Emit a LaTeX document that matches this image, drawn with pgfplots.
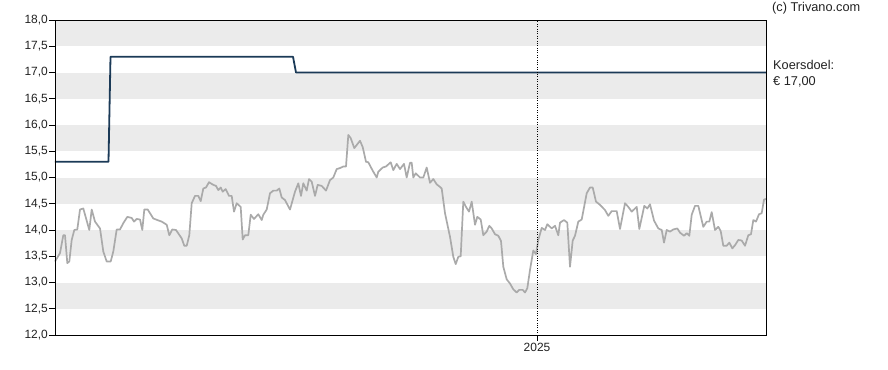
\documentclass[border=0pt]{standalone}
\usepackage{pgfplots}
\pgfplotsset{compat=1.18}
\usepackage{fontspec}
\setmainfont{Liberation Sans}
\definecolor{band}{HTML}{EBEBEB}
\definecolor{target}{HTML}{1B3A57}
\definecolor{price}{HTML}{AAAAAA}
\definecolor{txt}{HTML}{222222}
\begin{document}
\begin{tikzpicture}[x=1bp,y=1bp]
\begin{axis}[
  at={(55bp,-335bp)}, anchor=south west,
  scale only axis, width=711bp, height=315bp,
  xmin=55, xmax=766, ymin=12, ymax=18,
  ytick={12,12.5,...,18},
  xtick={537}, xticklabels={2025},
  xtick pos=bottom, ytick pos=left,
  xmajorgrids, major x grid style={black, dotted, line width=0.8pt},
  tick align=outside, major tick length=6bp,
  tick style={black, line width=0.8pt},
  axis line style={black, line width=0.8pt},
  axis on top,
  /pgf/number format/.cd, fixed, fixed zerofill, precision=1, use comma, assume math mode=true,
  /pgfplots/.cd,
  ticklabel style={font=\fontsize{12}{14}\selectfont, text=txt},
  yticklabel style={inner sep=1bp},
  xticklabel style={inner sep=2bp},
  clip=false,
]
\fill[band] (axis cs:55,17.5) rectangle (axis cs:766,18);
\fill[band] (axis cs:55,16.5) rectangle (axis cs:766,17);
\fill[band] (axis cs:55,15.5) rectangle (axis cs:766,16);
\fill[band] (axis cs:55,14.5) rectangle (axis cs:766,15);
\fill[band] (axis cs:55,13.5) rectangle (axis cs:766,14);
\fill[band] (axis cs:55,12.5) rectangle (axis cs:766,13);
\addplot[price, line width=1.7bp, line join=round] coordinates {
(55,13.40)(60,13.56)(63.3,13.90)(65,13.90)(67.3,13.37)(69.3,13.40)(71.7,13.81)(74.3,14.00)(77.3,14.01)(80,14.39)(83.3,14.41)(89.3,14.00)(91.7,14.39)(95,14.16)(100,14.03)(103.3,13.59)(106.7,13.40)(110.7,13.40)(113.3,13.59)(116.7,14.01)(120,14.01)(123.3,14.13)(127.3,14.25)(131.7,14.23)(134,14.16)(136.7,14.21)(140,14.20)(142.3,14.00)(144.3,14.39)(147.7,14.39)(153.3,14.22)(157.3,14.19)(161.7,14.16)(166.7,14.10)(169.3,13.90)(172.3,14.01)(176,14.00)(181.7,13.84)(184.3,13.70)(186.7,13.70)(189.3,13.90)(191.7,14.51)(195,14.65)(198.3,14.65)(200.7,14.55)(203.3,14.79)(206,14.81)(209,14.91)(213.3,14.86)(216,14.84)(218.3,14.76)(220.7,14.81)(222.7,14.73)(225.7,14.78)(229,14.65)(231.7,14.65)(234,14.35)(236.7,14.51)(240.7,14.44)(242.7,13.82)(245,13.90)(248.3,13.90)(250.7,14.29)(254,14.21)(258.3,14.30)(261.7,14.19)(263.3,14.29)(266.7,14.39)(270,14.70)(273.3,14.75)(276.7,14.75)(279.3,14.79)(281.7,14.62)(285,14.57)(290,14.39)(295,14.73)(298.3,14.89)(301,14.65)(303.3,14.89)(306.7,14.75)(309,14.97)(311.7,14.92)(315,14.65)(317.7,14.86)(321.7,14.84)(326,14.75)(330,14.95)(333.3,15.00)(336.7,15.16)(340,15.18)(343.3,15.21)(346,15.21)(348.3,15.81)(350.7,15.75)(354.3,15.56)(360,15.70)(362.7,15.58)(366,15.30)(368.3,15.29)(372.7,15.13)(376.7,15.00)(378.3,15.11)(382.7,15.19)(386,15.21)(390.7,15.29)(393.3,15.14)(396.7,15.26)(400,15.16)(404,15.26)(406.7,15.00)(410,15.28)(411.7,15.28)(413.3,15.00)(415.7,15.08)(420,15.00)(423.3,15.00)(426.7,15.19)(430,14.90)(433.3,14.97)(436.7,14.87)(440,14.82)(441.7,14.79)(445,14.32)(450,13.87)(453.3,13.49)(455.7,13.35)(458.3,13.49)(460.7,13.50)(463.3,14.54)(466,14.44)(469,14.35)(471.7,14.54)(475,14.10)(477.3,14.25)(480.7,14.20)(483.3,13.90)(486.7,13.97)(489.3,14.08)(491.7,14.03)(495,13.92)(498.3,13.89)(501,13.79)(503.3,13.30)(506.7,13.06)(510,12.98)(513.3,12.87)(516.7,12.81)(519.3,12.86)(522.7,12.86)(525,12.81)(527.3,12.89)(530,13.24)(533.3,13.61)(536,13.54)(538.3,13.81)(541.7,14.04)(545,14.00)(547.3,14.11)(551.7,14.03)(555,14.08)(558.3,13.90)(560,14.14)(564,14.19)(567.3,14.14)(570,13.30)(572.7,13.80)(575,13.89)(578.3,14.16)(581.7,14.20)(586.7,14.70)(590,14.81)(592.7,14.81)(596,14.54)(600,14.48)(605,14.38)(608.3,14.27)(611.7,14.36)(616.7,14.36)(620,14.02)(625,14.51)(628.3,14.44)(631.7,14.35)(636.7,14.44)(639.3,14.02)(644.3,14.46)(647.3,14.41)(650,14.49)(654,14.18)(658.3,14.03)(661.7,14.00)(664,13.76)(666.7,14.00)(670,13.97)(673.3,14.01)(677.3,14.03)(680,13.95)(684,13.89)(686.7,13.94)(689.3,13.89)(691.7,14.29)(695,14.46)(698.3,14.46)(703.3,14.06)(706.7,14.16)(709.3,14.16)(711.7,14.34)(715,14.00)(718.3,14.06)(720.7,13.98)(723.3,13.70)(726.7,13.70)(729.3,13.76)(732.3,13.65)(735,13.71)(738.3,13.81)(741.7,13.80)(745,13.70)(748.3,13.90)(751,13.92)(753.3,14.19)(756,14.16)(759,14.30)(761.7,14.32)(764,14.58)(766,14.59)
};
\addplot[target, line width=1.8bp, line join=round] coordinates {
(55,15.30)(108.5,15.30)(110.5,17.30)(293,17.30)(296,17.00)(766,17.00)
};
\end{axis}
\node[anchor=west, text=txt, font=\fontsize{12.8}{14}\selectfont, inner sep=0pt] at (772bp,-8bp) {(c) Trivano.com};
\node[anchor=west, text=txt, font=\fontsize{12.8}{14}\selectfont, inner sep=0pt] at (773bp,-65bp) {Koersdoel:};
\node[anchor=west, text=txt, font=\fontsize{12.8}{14}\selectfont, inner sep=0pt] at (773bp,-82bp) {€ 17,00};
\pgfresetboundingbox
\path[use as bounding box] (0,0) rectangle (888bp,-370bp);
\end{tikzpicture}
\end{document}
